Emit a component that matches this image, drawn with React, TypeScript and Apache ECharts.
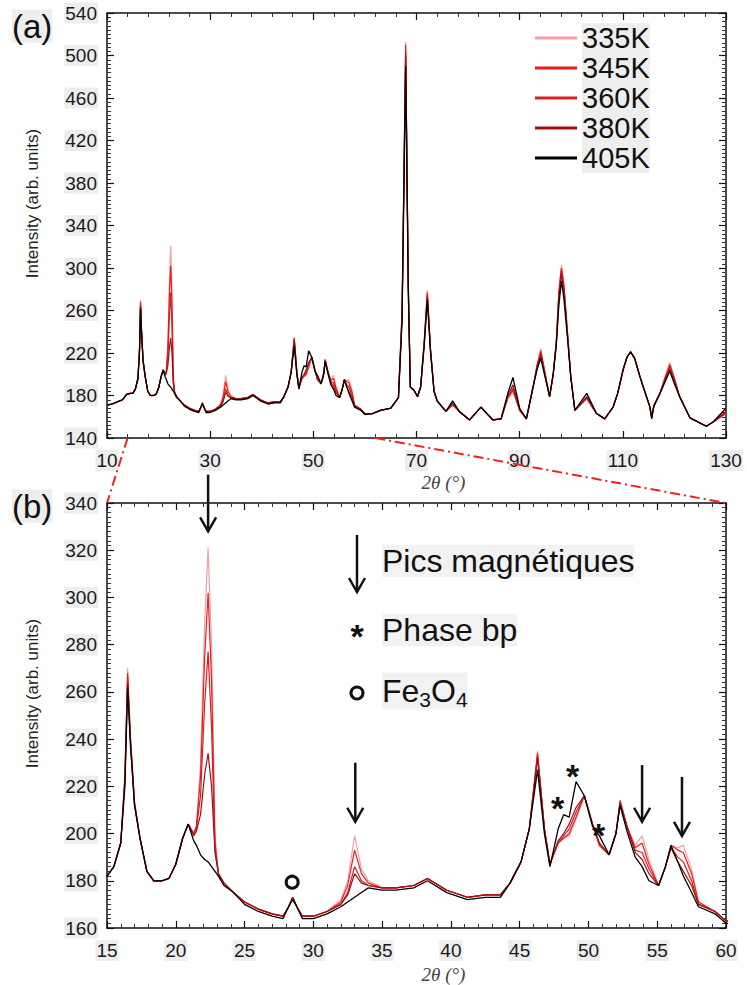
import React, { useEffect, useRef } from 'react';
import * as echarts from 'echarts';

// 2θ grid (degrees) shared by every temperature
const twoTheta = [
  10, 11, 12, 13, 13.8, 14.5, 15, 15.5, 16.0, 16.3, 16.5, 16.7, 17.0, 17.4, 17.9, 18.4, 19.0, 19.5, 20.0, 20.5,
  20.9, 21.3, 21.5, 21.8, 22.1, 22.35, 22.6, 22.85, 23.1, 23.5, 24.2, 25.0, 26.0, 27.0, 27.8, 28.2, 28.5, 28.8, 29.2, 30.0,
  31.0, 32.0, 32.5, 33.0, 33.5, 34.0, 35.0, 36.0, 37.3, 38.3, 39.7, 41.2, 42.5, 43.6, 44.3, 45.1, 45.7, 46.3, 46.8, 47.2,
  47.8, 48.2, 48.6, 49.1, 49.7, 50.3, 50.8, 51.5, 52.0, 52.3, 52.8, 53.4, 53.9, 54.4, 55.1, 55.6, 56.0, 56.5, 56.9, 57.5,
  58.0, 59.2, 60.0, 61.5, 63.0, 65.0, 66.5, 67.2, 67.9, 68.4, 68.8, 69.5, 70.2, 70.8, 71.5, 72.1, 72.7, 73.4, 74.0, 75.7,
  77.0, 78.3, 80.3, 82.5, 84.8, 86.4, 87.7, 88.7, 90.0, 91.3, 92.6, 93.4, 94.1, 94.8, 95.8, 96.5, 97.1, 97.6, 98.1, 98.6,
  99.4, 99.9, 100.7, 103.0, 104.9, 106.5, 108.1, 109.0, 110.1, 110.8, 111.5, 112.3, 113.3, 114.3, 115.2, 115.6, 116.0, 117.2, 118.2, 119.1,
  120.0, 121.0, 123.0, 126.2, 127.5, 130.0,
];

const i335K = [
  171, 172, 174, 176, 181, 182, 182, 186, 196, 225, 270, 242, 214, 198, 184, 180, 180, 181, 187, 198,
  204, 200, 203, 230, 290, 321, 280, 200, 183, 179, 175, 171, 168, 166, 165, 169, 173, 169, 165, 165,
  167, 172, 180, 199, 185, 180, 177, 177, 178, 181, 176, 173, 174, 174, 179, 188, 202, 235, 202, 187,
  197, 198, 199, 206, 216, 204, 195, 191, 200, 214, 203, 195, 199, 189, 178, 186, 195, 194, 195, 185,
  171, 167, 163, 163, 166, 168, 178, 260, 513, 290, 188, 185, 179, 188, 232, 279, 226, 184, 175, 165,
  171, 165, 157, 169, 157, 158, 177, 183, 166, 158, 188, 210, 224, 205, 179, 200, 232, 280, 303, 285,
  232, 198, 166, 177, 163, 158, 169, 182, 205, 216, 221, 215, 198, 183, 170, 160, 170, 182, 198, 211,
  197, 179, 159, 151, 155, 163,
];

const i345K = [
  171, 172, 174, 176, 181, 182, 182, 186, 196, 224, 268, 241, 213, 198, 184, 180, 180, 181, 187, 198,
  204, 200, 203, 224, 275, 302, 265, 196, 183, 179, 175, 171, 168, 166, 165, 169, 173, 169, 165, 165,
  167, 171, 178, 193, 183, 179, 177, 177, 178, 181, 176, 173, 174, 174, 179, 188, 202, 234, 202, 187,
  196, 198, 200, 207, 216, 204, 195, 191, 200, 214, 203, 194, 196, 187, 178, 186, 195, 193, 192, 183,
  171, 167, 163, 163, 166, 168, 178, 258, 510, 288, 188, 185, 179, 188, 231, 277, 225, 184, 175, 165,
  171, 165, 157, 169, 157, 158, 178, 185, 166, 158, 188, 209, 222, 204, 179, 200, 231, 277, 300, 282,
  231, 198, 166, 177, 163, 158, 169, 182, 205, 216, 221, 215, 198, 183, 170, 160, 170, 182, 197, 209,
  196, 179, 159, 151, 155, 163,
];

const i360K = [
  171, 172, 174, 176, 181, 182, 182, 186, 196, 223, 266, 240, 213, 198, 184, 180, 180, 181, 187, 198,
  204, 200, 202, 216, 255, 277, 245, 193, 183, 179, 175, 171, 168, 166, 165, 169, 173, 169, 165, 165,
  167, 170, 175, 186, 180, 178, 177, 177, 178, 181, 176, 173, 174, 174, 179, 188, 202, 233, 202, 187,
  196, 199, 202, 209, 216, 204, 195, 191, 200, 213, 203, 193, 192, 185, 178, 186, 194, 190, 188, 180,
  170, 167, 163, 163, 166, 168, 178, 256, 505, 286, 188, 185, 179, 188, 230, 275, 224, 184, 175, 165,
  172, 165, 157, 169, 157, 158, 178, 187, 166, 158, 188, 208, 220, 203, 179, 200, 230, 275, 298, 280,
  230, 198, 166, 178, 163, 158, 169, 182, 205, 216, 221, 215, 198, 183, 170, 160, 170, 182, 196, 207,
  195, 179, 159, 151, 155, 164,
];

const i380K = [
  171, 172, 174, 176, 181, 182, 182, 186, 196, 222, 264, 239, 212, 198, 184, 180, 180, 181, 187, 198,
  204, 199, 201, 208, 225, 234, 220, 192, 183, 179, 175, 171, 168, 166, 165, 169, 173, 169, 165, 165,
  167, 170, 174, 183, 179, 178, 177, 177, 178, 181, 176, 173, 174, 174, 179, 188, 202, 232, 202, 187,
  197, 200, 204, 211, 216, 204, 196, 191, 200, 213, 203, 192, 189, 183, 178, 186, 194, 188, 184, 178,
  170, 167, 163, 163, 166, 168, 178, 254, 500, 284, 188, 185, 179, 188, 229, 273, 223, 184, 175, 165,
  173, 165, 157, 169, 157, 158, 180, 190, 167, 158, 188, 207, 218, 202, 179, 200, 229, 272, 295, 277,
  229, 198, 166, 179, 163, 158, 169, 182, 205, 216, 221, 215, 198, 183, 170, 159, 170, 182, 195, 205,
  193, 179, 159, 151, 155, 165,
];

const i405K = [
  171, 172, 174, 176, 181, 182, 182, 186, 196, 220, 262, 238, 212, 198, 184, 180, 180, 181, 187, 198,
  204, 197, 195, 191, 189, 188, 186, 184, 182, 178, 175, 170, 167, 165, 164, 169, 172, 169, 164, 164,
  166, 169, 171, 173, 175, 177, 176, 176, 177, 180, 175, 172, 173, 173, 179, 188, 202, 227, 200, 186,
  202, 208, 207, 222, 216, 203, 199, 191, 200, 212, 201, 190, 186, 180, 178, 186, 195, 188, 182, 175,
  169, 166, 162, 163, 166, 168, 178, 250, 490, 280, 188, 185, 179, 188, 227, 270, 222, 184, 175, 165,
  175, 165, 157, 169, 157, 158, 182, 197, 168, 158, 188, 205, 215, 200, 179, 200, 227, 265, 288, 270,
  227, 198, 166, 182, 163, 158, 169, 182, 205, 216, 221, 215, 198, 183, 170, 158, 170, 182, 193, 203,
  191, 179, 159, 151, 155, 168,
];

const seriesNames = ['335K', '345K', '360K', '380K', '405K'];
const seriesValues = [i335K, i345K, i360K, i380K, i405K];
const seriesColors = ['#f3a0a4', '#ec1c1c', '#d81e1e', '#a00f0f', '#000000'];

// axis ranges and ticks
const xRangeA = { min: 10, max: 130, interval: 20 };
const yRangeA = { min: 140, max: 540, interval: 40 };
const xRangeB = { min: 15, max: 60, interval: 5 };
const yRangeB = { min: 160, max: 340, interval: 20 };

// annotations of panel (b), in data units
const arrowMarks = [
  { x: 22.35, from: 352, to: 328 },
  { x: 33.05, from: 230, to: 205 },
  { x: 53.9, from: 229, to: 205 },
  { x: 56.8, from: 224, to: 199 },
];
const starMarks = [
  { x: 47.75, y: 214.5 },
  { x: 48.84, y: 228.4 },
  { x: 50.73, y: 203.1 },
];
const circleMarks = [{ x: 28.46, y: 179.4 }];
// zoom guide: panel (a) x at its bottom -> panel (b) x at its top
const zoomGuides = [
  { fromX: 14, toX: 15 },
  { fromX: 62, toX: 60 },
];

const FONT = '"Liberation Sans", Arial, Helvetica, sans-serif';

function xAxisDef(gridIndex: number, r: any, position: 'top' | 'bottom', withLabel: boolean, gap: number) {
  return {
    type: 'value',
    gridIndex,
    position,
    min: r.min,
    max: r.max,
    interval: r.interval,
    name: withLabel ? '2θ (°)' : '',
    nameLocation: 'middle',
    nameGap: gap,
    nameTextStyle: {
      fontFamily: '"Liberation Serif", "Times New Roman", serif',
      fontStyle: 'italic',
      fontSize: 19,
      color: '#444',
      padding: [0, 0, 0, 54],
    },
    axisLine: { show: true, onZero: false, lineStyle: { color: '#111', width: 1.5 } },
    axisTick: { show: true, inside: true, length: 7, lineStyle: { color: '#111', width: 1.2 } },
    minorTick: { show: true, splitNumber: 5, length: 4, lineStyle: { color: '#333', width: 1 } },
    splitLine: { show: false },
    minorSplitLine: { show: false },
    axisLabel: {
      show: withLabel,
      margin: 12,
      fontFamily: FONT,
      fontSize: 19,
      color: '#1a1a1a',
      backgroundColor: '#ededed',
      padding: [1, 1],
    },
  };
}

function yAxisDef(gridIndex: number, r: any, position: 'left' | 'right', withLabel: boolean) {
  return {
    type: 'value',
    gridIndex,
    position,
    min: r.min,
    max: r.max,
    interval: r.interval,
    name: withLabel ? 'Intensity (arb. units)' : '',
    nameLocation: 'middle',
    nameGap: 66,
    nameTextStyle: { fontFamily: FONT, fontSize: 17, color: '#222', padding: [0, 0, 0, 44] },
    axisLine: { show: true, onZero: false, lineStyle: { color: '#111', width: 1.5 } },
    axisTick: { show: true, inside: true, length: 7, lineStyle: { color: '#111', width: 1.2 } },
    minorTick: { show: true, splitNumber: 10, length: 4, lineStyle: { color: '#333', width: 1 } },
    splitLine: { show: false },
    minorSplitLine: { show: false },
    axisLabel: {
      show: withLabel,
      margin: 9,
      fontFamily: FONT,
      fontSize: 19,
      color: '#1a1a1a',
      backgroundColor: '#ededed',
      padding: [1, 1],
    },
  };
}

export default function App() {
  const ref = useRef<HTMLDivElement>(null);

  useEffect(() => {
    if (!ref.current) return;
    const chart = echarts.init(ref.current, null, { renderer: 'svg' });

    const series: any[] = [];
    [0, 1].forEach((panel) => {
      seriesNames.forEach((name, k) => {
        series.push({
          type: 'line',
          name,
          xAxisIndex: panel === 0 ? 0 : 2,
          yAxisIndex: panel === 0 ? 0 : 2,
          data: twoTheta.map((x, i) => [x, seriesValues[k][i]]),
          showSymbol: false,
          symbol: 'none',
          color: seriesColors[k],
          lineStyle: { color: seriesColors[k], width: k === 4 ? 1.3 : 1.2 },
          z: 2 + k,
          clip: true,
        });
      });
    });

    chart.setOption({
      animation: false,
      backgroundColor: '#ffffff',
      grid: [
        { left: 107, top: 13, width: 619, height: 425 },
        { left: 107, top: 503, width: 619, height: 426 },
      ],
      xAxis: [
        xAxisDef(0, xRangeA, 'bottom', true, 35),
        xAxisDef(0, xRangeA, 'top', false, 0),
        xAxisDef(1, xRangeB, 'bottom', true, 37),
        xAxisDef(1, xRangeB, 'top', false, 0),
      ],
      yAxis: [
        yAxisDef(0, yRangeA, 'left', true),
        yAxisDef(0, yRangeA, 'right', false),
        yAxisDef(1, yRangeB, 'left', true),
        yAxisDef(1, yRangeB, 'right', false),
      ],
      legend: {
        data: seriesNames,
        orient: 'vertical',
        left: 535,
        top: 23,
        padding: 0,
        itemGap: 0,
        itemWidth: 42,
        itemHeight: 3,
        icon: 'rect',
        textStyle: {
          fontFamily: FONT,
          fontSize: 29,
          lineHeight: 30,
          color: '#111',
          backgroundColor: '#eeeeee',
        },
      },
      series,
    });

    const pA = (x: number, y: number) => chart.convertToPixel({ xAxisIndex: 0, yAxisIndex: 0 } as any, [x, y]) as number[];
    const pB = (x: number, y: number) => chart.convertToPixel({ xAxisIndex: 2, yAxisIndex: 2 } as any, [x, y]) as number[];

    const graphics: any[] = [];
    const arrowStyle = { stroke: '#111', lineWidth: 2.5, fill: 'none' };
    const drawArrow = (x: number, y1: number, y2: number) => {
      graphics.push({ type: 'line', shape: { x1: x, y1, x2: x, y2 }, style: arrowStyle, z: 100 });
      graphics.push({
        type: 'polyline',
        shape: { points: [[x - 8, y2 - 14], [x, y2], [x + 8, y2 - 14]] },
        style: arrowStyle,
        z: 100,
      });
    };
    const drawStar = (x: number, y: number) => {
      graphics.push({
        type: 'text',
        x,
        y: y + 9,
        style: { text: '*', fontFamily: FONT, fontSize: 34, fontWeight: 'bold', fill: '#111', align: 'center', verticalAlign: 'middle' },
        z: 100,
      });
    };
    const drawCircle = (x: number, y: number) => {
      graphics.push({ type: 'circle', shape: { cx: x, cy: y, r: 6 }, style: { fill: 'none', stroke: '#111', lineWidth: 3 }, z: 100 });
    };

    arrowMarks.forEach((a) => {
      const p1 = pB(a.x, a.from);
      const p2 = pB(a.x, a.to);
      drawArrow(p1[0], p1[1], p2[1]);
    });
    starMarks.forEach((s) => {
      const p = pB(s.x, s.y);
      drawStar(p[0], p[1]);
    });
    circleMarks.forEach((c) => {
      const p = pB(c.x, c.y);
      drawCircle(p[0], p[1]);
    });

    zoomGuides.forEach((g) => {
      const p1 = pA(g.fromX, yRangeA.min);
      const p2 = pB(g.toX, yRangeB.max);
      graphics.push({
        type: 'line',
        shape: { x1: p1[0], y1: p1[1], x2: p2[0], y2: p2[1] },
        style: { stroke: '#ee2222', lineWidth: 2, lineDash: [10, 4, 2, 4] },
        z: 90,
      });
    });

    // key of panel (b)
    drawArrow(357, 535, 592);
    drawStar(357, 627);
    drawCircle(357, 693);
    const keyText = (y: number, text: string, rich?: any) =>
      graphics.push({
        type: 'text',
        x: 382,
        y,
        style: {
          text,
          rich,
          fontFamily: FONT,
          fontSize: 32,
          fill: '#111',
          align: 'left',
          verticalAlign: 'middle',
          backgroundColor: '#f2f2f2',
        },
        z: 100,
      });
    keyText(561, 'Pics magnétiques');
    keyText(630, 'Phase bp');
    keyText(691, '{a|Fe}{s|3}{a|O}{s|4}', {
      a: { fontFamily: FONT, fontSize: 32, fill: '#111' },
      s: { fontFamily: FONT, fontSize: 21, fill: '#111', padding: [16, 0, 0, 0] },
    });

    // panel letters
    graphics.push({
      type: 'text', x: 12, y: 26,
      style: { text: '(a)', fontFamily: FONT, fontSize: 33, fill: '#111', align: 'left', verticalAlign: 'middle', backgroundColor: '#eeeeee' },
      z: 100,
    });
    graphics.push({
      type: 'text', x: 12, y: 506,
      style: { text: '(b)', fontFamily: FONT, fontSize: 33, fill: '#111', align: 'left', verticalAlign: 'middle', backgroundColor: '#eeeeee' },
      z: 100,
    });

    chart.setOption({ graphic: graphics });

    return () => chart.dispose();
  }, []);

  return <div ref={ref} style={{ position: 'absolute', left: 0, top: 0, width: 747, height: 985 }} />;
}
